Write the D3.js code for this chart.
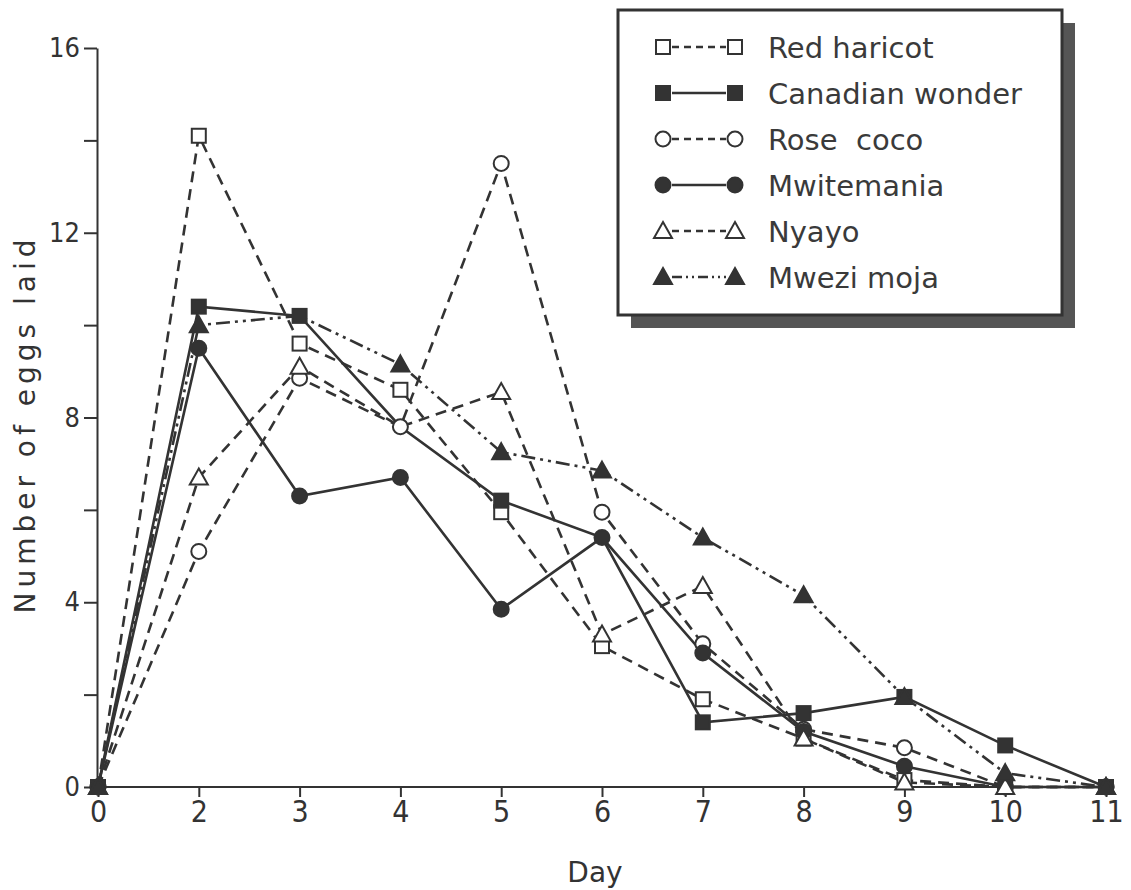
<!DOCTYPE html>
<html>
<head>
<meta charset="utf-8">
<script src="https://cdn.jsdelivr.net/npm/d3@7"></script>
<style>
  html, body { margin: 0; padding: 0; background: #fff; }
  svg { display: block; }
</style>
</head>
<body>
<svg id="chart"></svg>
<script>
// data
const days = [0, 2, 3, 4, 5, 6, 7, 8, 9, 10, 11];
const redHaricot     = [0, 14.1, 9.6, 8.6, 5.95, 3.05, 1.9, 1.05, 0.15, 0, 0];
const canadianWonder = [0, 10.4, 10.2, 7.8, 6.2, 5.4, 1.4, 1.6, 1.95, 0.9, 0];
const roseCoco       = [0, 5.1, 8.85, 7.8, 13.5, 5.95, 3.1, 1.25, 0.85, 0, 0];
const mwitemania     = [0, 9.5, 6.3, 6.7, 3.85, 5.4, 2.9, 1.2, 0.45, 0, 0];
const nyayo          = [0, 6.7, 9.1, 7.8, 8.55, 3.3, 4.35, 1.05, 0.1, 0, 0];
const mweziMoja      = [0, 10.0, 10.2, 9.15, 7.25, 6.85, 5.4, 4.15, 1.95, 0.3, 0];
const yTicks = [0, 2, 4, 6, 8, 10, 12, 14, 16];
const yLabels = [0, 4, 8, 12, 16];
// points where the marker is covered by another variety's marker
const hiddenMarkers = [['Canadian wonder', 4], ['Nyayo', 4], ['Canadian wonder', 6], ['Mwezi moja', 3]];

const series = [
  { name: 'Red haricot', values: redHaricot, shape: 'square', filled: false, dash: '11,7' },
  { name: 'Canadian wonder', values: canadianWonder, shape: 'square', filled: true, dash: null },
  { name: 'Rose  coco', values: roseCoco, shape: 'circle', filled: false, dash: '11,7' },
  { name: 'Mwitemania', values: mwitemania, shape: 'circle', filled: true, dash: null },
  { name: 'Nyayo', values: nyayo, shape: 'triangle', filled: false, dash: '11,7' },
  { name: 'Mwezi moja', values: mweziMoja, shape: 'triangle', filled: true, dash: '14,5,3,5,3,5' }
];

const ink = '#333';
const W = 1131, H = 890;

const svg = d3.select('#chart').attr('width', W).attr('height', H);

const x = d3.scalePoint().domain(days).range([98, 1106]);
const y = d3.scaleLinear().domain([0, 16]).range([787, 48]);
const axisX = 97;

// axes
const yAxis = svg.append('g')
  .attr('transform', `translate(${axisX},0)`)
  .call(d3.axisLeft(y).tickValues(yTicks).tickSize(13).tickSizeOuter(0).tickPadding(4)
    .tickFormat(d => yLabels.includes(d) ? d : ''));

const xAxis = svg.append('g')
  .attr('transform', `translate(0,${y(0)})`)
  .call(d3.axisBottom(x).tickSize(10).tickSizeOuter(0).tickPadding(4));

xAxis.select('.domain').attr('d', `M${axisX},0H1112`);

[yAxis, xAxis].forEach(g => {
  g.select('.domain').attr('stroke', ink).attr('stroke-width', 2);
  g.selectAll('.tick line').attr('stroke', ink).attr('stroke-width', 2);
  g.selectAll('.tick text')
    .attr('fill', ink)
    .style('font-family', '"DejaVu Sans Condensed", "DejaVu Sans", sans-serif');
});
yAxis.selectAll('.tick text').style('font-size', '27px');
xAxis.selectAll('.tick text').style('font-size', '30px');

svg.append('text')
  .attr('x', 595).attr('y', 882)
  .attr('text-anchor', 'middle')
  .attr('fill', ink)
  .style('font-family', '"DejaVu Sans", sans-serif')
  .style('font-size', '28px')
  .text('Day');

svg.append('text')
  .attr('transform', 'translate(35,424) rotate(-90)')
  .attr('text-anchor', 'middle')
  .attr('fill', ink)
  .style('font-family', '"DejaVu Sans", sans-serif')
  .style('font-size', '28px')
  .style('letter-spacing', '5px')
  .text('Number of eggs laid');

// marker drawing
function marker(g, shape, filled) {
  let m;
  if (shape === 'square') {
    m = g.append('rect').attr('x', -7).attr('y', -7).attr('width', 14).attr('height', 14);
  } else if (shape === 'circle') {
    m = g.append('circle').attr('r', 7.5);
  } else {
    m = g.append('path').attr('d', 'M0,-9L9,7H-9Z');
  }
  m.attr('fill', filled ? ink : '#fff')
    .attr('stroke', ink)
    .attr('stroke-width', 2);
}

const line = d3.line().x((d, i) => x(days[i])).y(d => y(d));

// lines
svg.append('g').selectAll('path')
  .data(series)
  .join('path')
  .attr('d', d => line(d.values))
  .attr('fill', 'none')
  .attr('stroke', ink)
  .attr('stroke-width', 2.6)
  .attr('stroke-dasharray', d => d.dash);

// markers
const isHidden = (name, day) => hiddenMarkers.some(h => h[0].replace(/\s+/g, ' ') === name.replace(/\s+/g, ' ') && h[1] === day);
series.forEach(s => {
  s.values.forEach((v, i) => {
    if (isHidden(s.name, days[i])) return;
    const g = svg.append('g').attr('transform', `translate(${x(days[i])},${y(v)})`);
    marker(g, s.shape, s.filled);
  });
});

// legend
const lg = svg.append('g');
lg.append('rect')
  .attr('x', 631).attr('y', 23).attr('width', 444).attr('height', 305)
  .attr('fill', '#555');
lg.append('rect')
  .attr('x', 618).attr('y', 10).attr('width', 444).attr('height', 305)
  .attr('fill', '#fff')
  .attr('stroke', ink)
  .attr('stroke-width', 3);

const row = d3.scalePoint().domain(series.map(s => s.name)).range([47, 277]);
series.forEach(s => {
  const cy = row(s.name);
  lg.append('line')
    .attr('x1', 672).attr('x2', 726).attr('y1', cy).attr('y2', cy)
    .attr('stroke', ink).attr('stroke-width', 2.4)
    .attr('stroke-dasharray', s.dash ? (s.dash.length > 5 ? '10,4,2,4,2,4' : '7,5') : null);
  marker(lg.append('g').attr('transform', `translate(663,${cy})`), s.shape, s.filled);
  marker(lg.append('g').attr('transform', `translate(735,${cy})`), s.shape, s.filled);
  lg.append('text')
    .attr('x', 768).attr('y', cy + 11)
    .attr('fill', '#3a3a3a')
    .style('font-family', '"DejaVu Sans", sans-serif')
    .style('font-size', '29px')
    .style('white-space', 'pre')
    .text(s.name);
});
</script>
</body>
</html>
